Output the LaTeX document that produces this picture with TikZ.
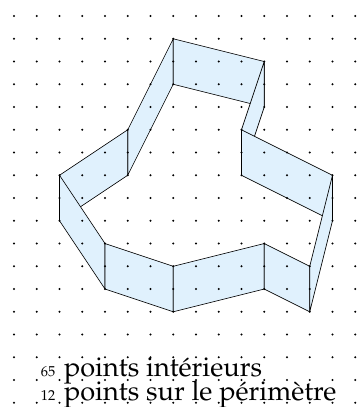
\documentclass[tikz,border=0pt]{standalone}
\usepackage[T1]{fontenc}
\renewcommand{\rmdefault}{ppl}
\definecolor{bandfill}{RGB}{224,241,253}
\begin{document}
\begin{tikzpicture}[x=1cm,y=1cm,
  face/.style={fill=bandfill,draw=black,line width=0.8pt,line join=round},
  gdot/.style={fill=black},
  txtline/.style={anchor=base west,inner sep=0pt,outer sep=0pt,font=\rmfamily}]
\useasboundingbox (-0.615,-17.186) rectangle (15.121,0.704);
% polygon (top copy)
\coordinate (p1) at (7,-1);
\coordinate (p2) at (5,-5);
\coordinate (p3) at (2,-7);
\coordinate (p4) at (4,-10);
\coordinate (p5) at (7,-11);
\coordinate (p6) at (11,-10);
\coordinate (p7) at (13,-11);
\coordinate (p8) at (14,-7);
\coordinate (p9) at (10,-5);
\coordinate (p10) at (11,-2);
% shifted copy
\coordinate (q1) at (7,-3);
\coordinate (q2) at (5,-7);
\coordinate (q3) at (2,-9);
\coordinate (q4) at (4,-12);
\coordinate (q5) at (7,-13);
\coordinate (q6) at (11,-12);
\coordinate (q7) at (13,-13);
\coordinate (q8) at (14,-9);
\coordinate (q9) at (10,-7);
\coordinate (q10) at (11,-4);
% faces
\foreach \a/\b in {1/2,2/3,3/4,4/5,5/6,6/7,10/1,9/10,8/9,7/8}
  \filldraw[face] (p\a) -- (p\b) -- (q\b) -- (q\a) -- cycle;
% labels
\node[txtline,text depth=0pt] (t1) at (1.18,-15.83) {\fontsize{18}{18}\selectfont 65\hspace{11pt}\fontsize{34}{34}\selectfont points int\'erieurs};
\node[txtline,text height=18pt] (t2) at (1.18,-16.9) {\fontsize{18}{18}\selectfont 12\hspace{11pt}\fontsize{34}{34}\selectfont points sur le p\'erim\`etre};
% dot grid
\foreach \i in {0,...,15}
  \foreach \j in {0,...,17}
    \fill[gdot] (\i,-\j) circle[radius=1.3pt];
\end{tikzpicture}
\end{document}
